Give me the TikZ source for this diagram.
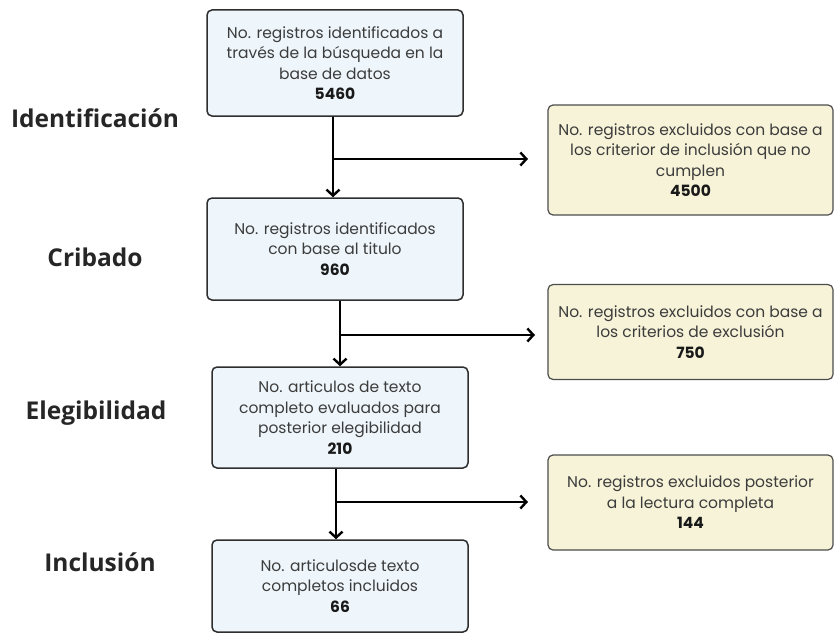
\documentclass[tikz,border=0pt]{standalone}
\usepackage{fontspec}
\setmainfont{Poppins}
\newfontfamily\labelfont{Open Sans}
\usetikzlibrary{arrows.meta,calc}
\definecolor{bluefill}{HTML}{EEF6FB}
\definecolor{yelfill}{HTML}{F6F3D8}
\definecolor{boxtext}{HTML}{3C3C3C}
\definecolor{boxline}{HTML}{2E2E2E}
\begin{document}
\begin{tikzpicture}[x=1pt,y=-1pt,
  bluebox/.style={draw=boxline,line width=1.5pt,fill=bluefill,rounded corners=5pt,
    minimum width=256pt,align=center,text=boxtext,font=\fontsize{15.5}{20.5}\selectfont,inner sep=0pt},
  yelbox/.style={draw=boxline!85,line width=1.2pt,fill=yelfill,rounded corners=5pt,
    minimum width=285pt,align=center,text=boxtext,font=\fontsize{15.5}{20.5}\selectfont,inner sep=0pt},
  stage/.style={font=\labelfont\bfseries\fontsize{24.5}{28}\selectfont,text=black!85},
  arr/.style={line width=2.4pt,-{Straight Barb[length=6pt,width=13pt,line width=2.4pt]}},
  lin/.style={line width=2.4pt}]
\useasboundingbox (0,0) rectangle (835,634);
\fill[white] (0,0) rectangle (835,634);
\newcommand{\num}[1]{\textbf{\color{black!90}#1}}
\node[bluebox,minimum height=106pt] (b1) at (335,63)
  {No. registros identificados a\\ través de la búsqueda en la\\ base de datos\\ \num{5460}};
\node[bluebox,minimum height=102pt] (b2) at (335,249)
  {No. registros identificados\\ con base al titulo\\ \num{960}};
\node[bluebox,minimum height=101pt] (b3) at (340,417.5)
  {No. articulos de texto\\ completo evaluados para\\ posterior elegibilidad\\ \num{210}};
\node[bluebox,minimum height=92pt] (b4) at (340,586)
  {No. articulosde texto\\ completos incluidos\\ \num{66}};
\node[yelbox,minimum height=110pt] (y1) at (690.5,160)
  {No. registros excluidos con base a\\ los criterior de inclusión que no\\ cumplen\\ \num{4500}};
\node[yelbox,minimum height=95pt] (y2) at (690.5,332)
  {No. registros excluidos con base a\\ los criterios de exclusión\\ \num{750}};
\node[yelbox,minimum height=95pt] (y3) at (690.5,502.5)
  {No. registros excluidos posterior\\ a la lectura completa\\ \num{144}};
\node[stage] (s1) at (95,118) {Identificación};
\node[stage] (s2) at (95,257) {Cribado};
\node[stage] (s3) at (96,413) {Elegibilidad};
\node[stage] (s4) at (100,562) {Inclusión};
\coordinate (j1) at (333,159);
\coordinate (e1) at (528,159);
\coordinate (j2) at (340,335);
\coordinate (e2) at (535,335);
\coordinate (j3) at (336,502);
\coordinate (e3) at (528,502);
\draw[arr] (b1.south -| j1) -- (b2.north -| j1);
\draw[arr] (j1) -- (e1);
\draw[arr] (b2.south -| j2) -- (b3.north -| j2);
\draw[arr] (j2) -- (e2);
\draw[arr] (b3.south -| j3) -- (b4.north -| j3);
\draw[arr] (j3) -- (e3);
\end{tikzpicture}
\end{document}
